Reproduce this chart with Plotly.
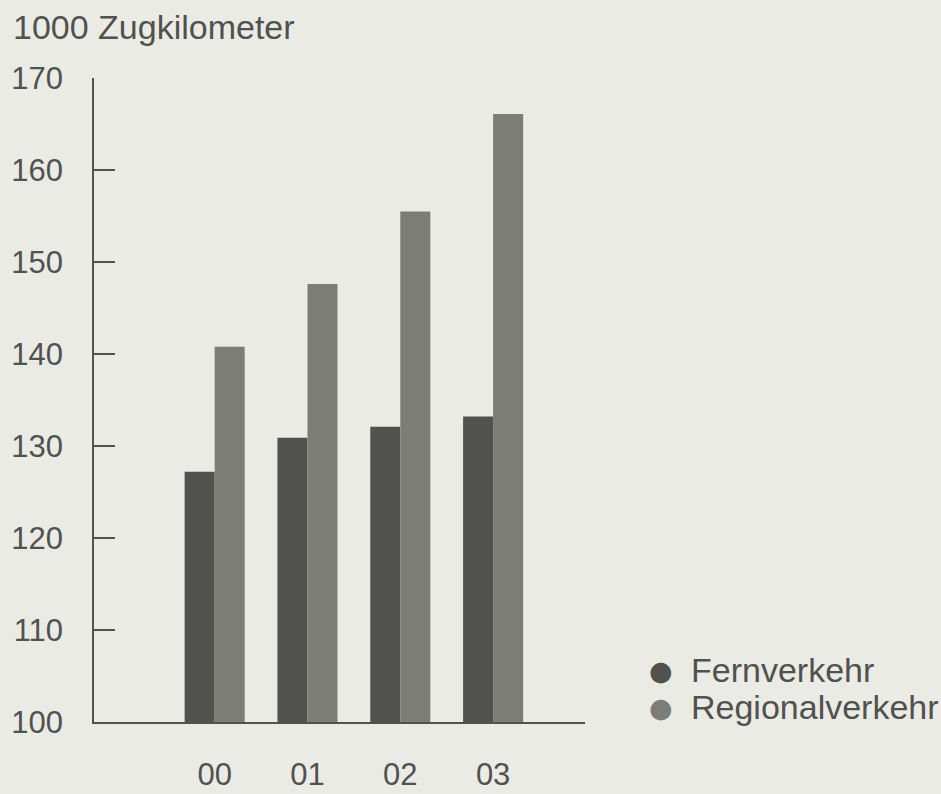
import plotly.graph_objects as go

years = ["00", "01", "02", "03"]
series_names = ["Fernverkehr", "Regionalverkehr"]
fernverkehr = [127.2, 130.9, 132.1, 133.2]
regionalverkehr = [140.8, 147.6, 155.5, 166.1]
y_ticks = [100, 110, 120, 130, 140, 150, 160, 170]

BG = "#ebebe6"
C_FERN = "#51524d"
C_REG = "#7d7d78"
TXT = "#51514e"
FONT = "Liberation Sans, Arial, sans-serif"

fig = go.Figure()
fig.add_trace(go.Bar(x=years, y=fernverkehr, name=series_names[0],
                     marker=dict(color=C_FERN, line=dict(width=0))))
fig.add_trace(go.Bar(x=years, y=regionalverkehr, name=series_names[1],
                     marker=dict(color=C_REG, line=dict(width=0))))

# legend drawn as text annotations (marker glyph + label)
legend_rows = [(series_names[0], C_FERN, 105.65), (series_names[1], C_REG, 101.6)]
for name, col, yy in legend_rows:
    fig.add_annotation(text="\u25CF", x=(661 - 94) / 491, xref="paper", y=yy, yref="y",
                       xanchor="center", yanchor="middle", showarrow=False,
                       font=dict(family="DejaVu Sans", size=27, color=col))
    fig.add_annotation(text=name, x=(689 - 94) / 491, xref="paper", y=yy, yref="y",
                       xanchor="left", yanchor="middle", showarrow=False,
                       font=dict(family=FONT, size=34, color=TXT))

fig.update_layout(
    width=941, height=794,
    margin=dict(l=94, r=356, t=78, b=72),
    paper_bgcolor=BG, plot_bgcolor=BG,
    font=dict(family=FONT, size=31, color=TXT),
    barmode="group", bargap=0.353, bargroupgap=0,
    showlegend=False,
    title=dict(text="1000 Zugkilometer", x=13/941, xanchor="left", xref="container",
               y=1-27/794, yanchor="middle", yref="container",
               font=dict(family=FONT, size=34, color=TXT)),
    xaxis=dict(type="category", range=[-1.3, 3.99], showline=True, linecolor=TXT,
               linewidth=1.5, ticks="", showgrid=False, zeroline=False, automargin=False,
               tickfont=dict(size=31), ticklabelstandoff=24),
    yaxis=dict(range=[100, 170], tickvals=y_ticks, showline=True, linecolor=TXT,
               linewidth=1.5, ticks="inside", ticklen=21, tickwidth=1.5, tickcolor=TXT,
               showgrid=False, zeroline=False, automargin=False, tickfont=dict(size=31),
               ticklabelstandoff=23),
)

fig.write_html(
    "out.html",
    config={"displayModeBar": False},
    post_script=("document.body.style.margin='0';document.body.style.overflow='hidden';"
                 "document.body.style.background='" + BG + "';"),
)
